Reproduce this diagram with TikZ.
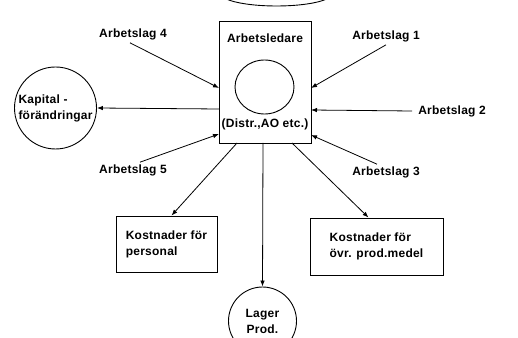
\documentclass[tikz,border=0pt]{standalone}
\usepackage{fontspec}
\setmainfont{Liberation Sans}[LetterSpace=2]
\usetikzlibrary{arrows.meta,shapes.geometric}
\begin{document}
\begin{tikzpicture}[x=1pt,y=1pt,
  every node/.style={font=\fontsize{12}{16}\selectfont\bfseries},
  lbl/.style={inner sep=0pt},
  outline/.style={draw,line width=0.9pt},
  costbox/.style={outline,rectangle,align=left,inner sep=0pt},
  roundbox/.style={outline,circle,inner sep=0pt,align=left},
  flow/.style={line width=0.8pt,-{Latex[length=6pt,width=4.5pt]}}]
\useasboundingbox (0,0) rectangle (518,337);
\fill[white] (0,0) rectangle (518,337);

% ellipse at the top edge
\node[outline,ellipse,minimum width=110,minimum height=24] (top) at (276.5,343) {};

% central foreman box
\node[outline,rectangle,minimum width=92,minimum height=122,inner sep=0pt] (box) at (265,255) {};
\node[lbl] (lead) at (265,299) {Arbetsledare};
\node[outline,ellipse,minimum width=59,minimum height=54,inner sep=0pt] (core) at (264.5,250) {};
\node[lbl] (distr) at (265,213) {(Distr.,AO etc.)};

% work teams
\node[lbl] (a4) at (133,303) {Arbetslag 4};
\node[lbl] (a1) at (386,301) {Arbetslag 1};
\node[lbl] (a2) at (452,226) {Arbetslag 2};
\node[lbl] (a3) at (386,165) {Arbetslag 3};
\node[lbl] (a5) at (133,167) {Arbetslag 5};

% outputs
\node[roundbox,minimum size=82] (kap) at (55.5,229)
  {\fontsize{12}{18}\selectfont Kapital -\\förändringar};
\node[costbox,minimum width=101,minimum height=56] (kp) at (166.5,93)
  {Kostnader för\\personal};
\node[costbox,minimum width=133,minimum height=57] (ko) at (376.5,90.5)
  {Kostnader för\\övr. prod.medel};
\node[roundbox,minimum size=68,align=center] (lager) at (262.5,16)
  {Lager\\Prod.};

% contact points on the foreman box
\coordinate (r1) at (311,249);
\coordinate (r2) at (311,227);
\coordinate (r3) at (311,202);
\coordinate (l4) at (219,249);
\coordinate (lk) at (219,228);
\coordinate (l5) at (219,203);
\coordinate (bp) at (237,194);
\coordinate (bl) at (263,194);
\coordinate (bo) at (292,194);

% inputs from the work teams
\draw[flow] ([xshift=-3pt,yshift=-3pt]a4.south) -- (l4);
\draw[flow] ([yshift=-3pt]a1.south) -- (r1);
\draw[flow] ([xshift=-6pt]a2.west) -- (r2);
\draw[flow] ([xshift=-9pt,yshift=2pt]a3.north) -- (r3);
\draw[flow] ([xshift=7pt,yshift=2pt]a5.north) -- (l5);

% outputs from the foreman box
\draw[flow] (lk) -- (kap.east);
\draw[flow] (bp) -- ([xshift=5pt]kp.north);
\draw[flow] (bl) -- (lager.north);
\draw[flow] (bo) -- ([xshift=-8pt]ko.north);
\end{tikzpicture}
\end{document}
